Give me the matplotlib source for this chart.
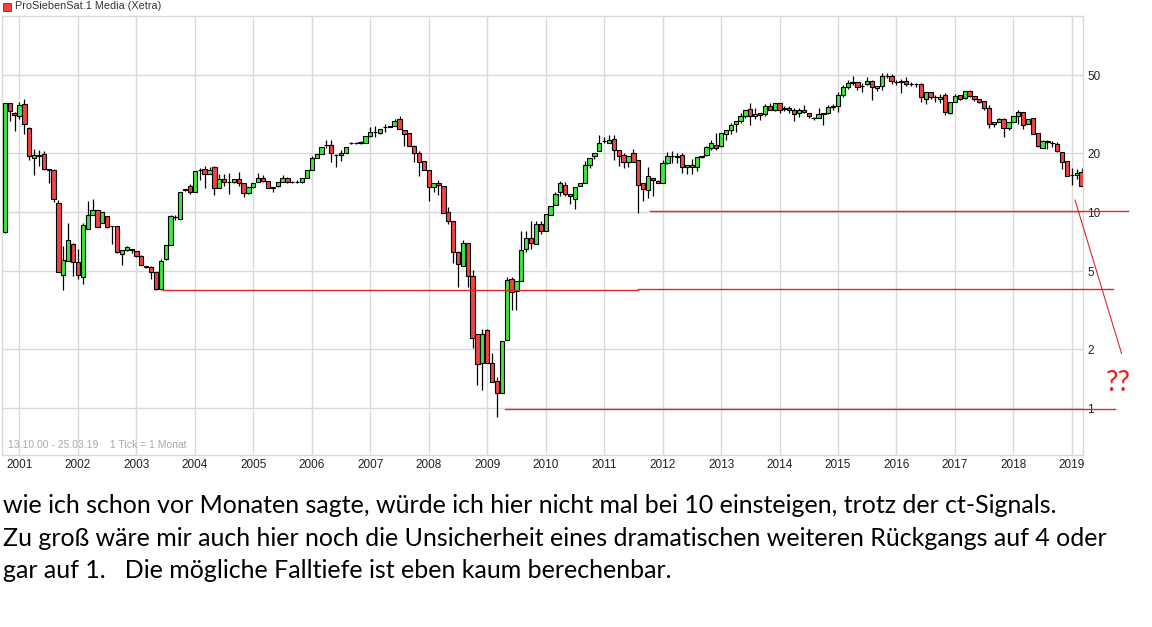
import numpy as np
import pandas as pd
import matplotlib
matplotlib.use("Agg")
import matplotlib.pyplot as plt
from matplotlib.patches import Rectangle
from matplotlib.ticker import FixedLocator, NullLocator, FixedFormatter

# monatliche Kerzen ProSiebenSat.1 (Xetra), Okt 2000 - Mär 2019
months = pd.date_range("2000-10-01", periods=222, freq="MS")

opens = [7.9, 35.8, 31.9, 31.0, 35.4, 26.7, 18.9, 19.5, 19.7, 16.5, 16.4, 11.1,
         4.75, 5.6, 6.9, 5.55, 4.64, 8.2, 9.6, 10.2, 8.8, 9.5, 8.5, 8.45,
         6.1, 6.38, 6.45, 6.3, 6.0, 5.28, 5.22, 4.92, 4.03, 5.74, 6.8, 9.4,
         9.2, 13.0, 13.5, 12.7, 16.3, 16.5, 15.6, 16.9, 13.3, 14.7, 14.2, 14.2,
         14.7, 14.0, 12.5, 13.4, 14.2, 14.9, 14.35, 13.3, 13.5, 14.2, 14.9, 14.2,
         14.25, 14.2, 14.95, 16.3, 18.9, 19.8, 21.9, 22.0, 19.6, 19.5, 20.1, 22.4,
         22.6, 22.4, 22.4, 24.4, 25.6, 25.2, 27.0, 27.3, 27.5, 29.7, 26.1, 25.3,
         21.8, 20.1, 18.2, 16.3, 13.4, 14.0, 13.6, 10.0, 8.95, 6.28, 5.3, 6.92,
         4.7, 2.4, 1.7, 2.5, 1.69, 1.38, 1.19, 2.22, 4.53, 3.95, 4.43, 6.5,
         7.37, 6.85, 8.66, 8.0, 9.7, 10.8, 12.6, 13.8, 12.3, 11.7, 13.5, 14.1,
         17.4, 19.3, 20.5, 22.9, 22.4, 23.7, 20.8, 19.5, 17.9, 20.1, 18.4, 14.1,
         12.9, 15.0, 14.4, 14.0, 17.8, 19.4, 19.4, 19.5, 16.9, 17.3, 17.0, 19.0,
         19.5, 21.3, 22.0, 21.8, 24.9, 26.1, 28.0, 29.1, 30.9, 33.4, 31.0, 32.0,
         31.6, 34.8, 33.2, 35.8, 33.5, 33.8, 33.3, 31.9, 33.3, 32.1, 30.1, 30.2,
         31.6, 31.9, 34.3, 34.6, 39.4, 43.6, 45.6, 45.8, 44.0, 45.0, 46.6, 42.8,
         44.0, 49.4, 49.4, 46.0, 46.0, 46.8, 44.8, 44.8, 45.2, 37.5, 41.1, 38.6,
         37.8, 39.5, 31.9, 36.6, 39.5, 38.0, 41.3, 39.0, 37.6, 36.9, 34.0, 28.0,
         28.7, 29.8, 26.7, 28.7, 30.9, 32.2, 28.0, 30.0, 25.2, 21.3, 23.0, 22.4,
         22.2, 20.2, 18.2, 15.4, 15.5, 16.0]
highs = [36.0, 35.9, 32.2, 36.5, 37.7, 27.0, 20.9, 20.8, 20.5, 16.6, 16.5, 11.5,
         6.7, 8.8, 6.95, 6.5, 8.8, 11.4, 11.7, 10.3, 10.0, 9.5, 8.5, 8.5,
         6.4, 6.7, 6.5, 6.3, 6.05, 5.33, 5.3, 4.95, 5.74, 6.8, 9.7, 9.6,
         12.7, 13.1, 13.9, 16.1, 16.8, 17.2, 17.0, 17.2, 15.7, 15.7, 15.9, 14.8,
         16.0, 14.1, 13.4, 14.0, 15.8, 15.5, 14.4, 13.35, 14.2, 15.4, 15.1, 14.4,
         14.5, 15.0, 16.3, 19.2, 19.8, 21.5, 23.3, 23.3, 19.7, 20.6, 21.5, 22.7,
         22.8, 22.9, 24.4, 27.1, 27.6, 26.5, 28.0, 27.6, 29.7, 30.8, 26.2, 25.4,
         21.9, 20.4, 18.2, 16.3, 14.1, 14.5, 13.6, 10.6, 8.95, 6.3, 7.2, 6.95,
         5.06, 2.4, 2.52, 2.52, 1.92, 1.44, 2.2, 4.68, 4.68, 4.43, 8.0, 8.0,
         8.95, 9.05, 8.95, 9.77, 10.7, 12.7, 14.4, 14.3, 12.3, 13.4, 14.0, 18.2,
         18.8, 20.0, 24.6, 24.2, 24.8, 24.8, 20.8, 19.9, 19.4, 21.0, 18.4, 14.1,
         17.0, 15.0, 14.5, 18.4, 20.3, 20.5, 19.9, 20.1, 17.4, 18.7, 19.0, 19.4,
         21.7, 23.3, 25.2, 25.2, 26.3, 28.3, 29.2, 31.9, 33.2, 36.2, 34.0, 32.1,
         35.5, 35.8, 35.8, 36.1, 34.8, 34.8, 33.8, 33.8, 35.0, 32.1, 30.6, 33.8,
         31.9, 35.0, 35.5, 41.0, 44.5, 47.4, 49.5, 46.0, 45.4, 48.6, 47.2, 43.8,
         51.0, 51.0, 50.4, 47.2, 47.6, 48.6, 46.0, 45.6, 45.4, 40.8, 41.1, 39.5,
         40.0, 40.3, 36.4, 40.0, 39.5, 41.3, 42.0, 39.0, 37.6, 36.9, 35.2, 28.7,
         30.2, 30.2, 28.7, 30.9, 33.2, 32.5, 29.9, 30.0, 25.2, 23.3, 23.3, 22.9,
         22.7, 20.2, 18.2, 16.8, 16.5, 16.8]
lows = [7.8, 29.0, 26.0, 29.7, 25.0, 18.4, 15.5, 17.2, 16.3, 14.1, 11.3, 4.95,
        4.02, 5.6, 4.71, 4.57, 4.3, 8.2, 9.6, 8.4, 8.8, 8.3, 6.9, 6.2,
        5.35, 6.3, 6.15, 5.9, 5.35, 5.17, 4.54, 3.98, 4.0, 5.7, 6.8, 9.1,
        9.2, 12.8, 12.4, 12.7, 14.6, 13.3, 15.6, 12.2, 13.3, 13.5, 12.4, 14.1,
        13.5, 11.9, 12.4, 13.3, 14.2, 14.3, 13.2, 12.6, 13.4, 14.2, 14.0, 14.0,
        14.0, 14.1, 14.9, 16.3, 18.8, 19.8, 21.1, 18.0, 17.0, 18.2, 20.0, 22.3,
        22.3, 22.3, 22.4, 24.2, 24.0, 25.1, 25.7, 27.0, 27.4, 26.5, 21.6, 21.7,
        17.9, 15.3, 16.3, 11.4, 12.6, 12.2, 9.84, 8.7, 5.5, 4.16, 5.3, 4.16,
        2.02, 1.31, 1.24, 1.69, 1.36, 0.90, 1.19, 2.22, 3.16, 3.16, 4.43, 6.26,
        6.5, 6.85, 7.75, 8.0, 9.7, 10.8, 12.0, 12.0, 11.0, 10.4, 13.5, 14.1,
        16.7, 18.7, 20.5, 22.6, 22.4, 18.4, 17.1, 16.7, 17.0, 18.0, 9.9, 11.4,
        11.8, 12.0, 14.0, 14.0, 17.6, 17.7, 17.7, 15.8, 15.6, 15.6, 16.2, 18.9,
        19.4, 20.7, 20.7, 21.5, 23.2, 25.0, 25.7, 28.3, 30.2, 27.7, 29.8, 29.5,
        31.0, 33.0, 32.8, 31.9, 32.8, 31.9, 29.1, 30.6, 31.9, 30.2, 29.5, 30.2,
        27.7, 31.8, 33.0, 32.5, 38.8, 42.6, 44.5, 41.9, 40.8, 44.5, 37.3, 41.6,
        42.0, 48.1, 45.0, 44.5, 40.3, 44.2, 44.2, 43.6, 36.6, 35.4, 37.8, 36.4,
        35.8, 31.3, 31.5, 36.6, 37.3, 37.8, 38.5, 36.9, 36.2, 33.0, 26.9, 27.2,
        28.7, 24.2, 26.2, 28.7, 28.0, 26.5, 28.0, 24.9, 21.5, 21.1, 21.0, 21.5,
        20.2, 16.5, 15.2, 13.8, 14.7, 13.5]
closes = [35.8, 32.6, 31.2, 35.0, 28.0, 19.2, 19.5, 19.4, 16.5, 16.4, 11.6, 4.97,
          5.67, 7.2, 5.55, 4.75, 8.56, 9.6, 10.2, 8.42, 9.97, 8.35, 8.45, 6.22,
          6.38, 6.66, 6.4, 6.0, 5.38, 5.25, 4.92, 4.06, 5.6, 6.8, 9.5, 9.45,
          12.7, 13.1, 12.7, 16.1, 16.4, 15.6, 16.3, 13.3, 14.7, 14.2, 14.25, 14.7,
          14.0, 12.5, 13.4, 14.0, 14.9, 14.35, 13.2, 13.35, 14.2, 14.9, 14.2, 14.25,
          14.2, 14.95, 16.3, 18.9, 19.8, 21.5, 22.0, 20.1, 19.5, 20.1, 21.5, 22.6,
          22.6, 22.8, 24.4, 25.7, 25.7, 26.4, 27.1, 27.4, 29.0, 26.5, 24.9, 21.8,
          20.1, 18.1, 16.3, 13.4, 14.1, 13.7, 9.84, 8.95, 6.28, 5.4, 6.92, 4.73,
          2.29, 1.67, 2.38, 1.69, 1.36, 1.19, 2.2, 4.48, 3.89, 4.43, 6.38, 7.35,
          6.97, 8.66, 8.0, 9.77, 10.7, 12.4, 14.1, 12.4, 12.0, 13.4, 14.0, 17.3,
          18.8, 20.0, 22.4, 22.9, 23.3, 20.7, 19.4, 18.0, 19.4, 18.0, 13.8, 13.1,
          15.3, 14.6, 14.05, 17.8, 19.4, 19.3, 19.0, 16.9, 17.3, 16.9, 19.0, 19.4,
          21.4, 22.5, 21.2, 25.2, 26.3, 27.7, 29.2, 31.0, 33.2, 30.8, 31.5, 31.2,
          34.8, 33.3, 35.8, 33.2, 34.0, 33.0, 31.7, 33.3, 32.4, 30.9, 30.2, 31.6,
          32.0, 34.3, 34.8, 39.5, 43.6, 45.4, 45.8, 43.3, 44.0, 46.6, 43.3, 43.8,
          49.4, 49.5, 46.4, 46.0, 46.8, 45.2, 44.8, 45.2, 38.8, 40.8, 38.6, 38.6,
          38.8, 32.3, 36.4, 39.2, 37.8, 41.3, 39.0, 37.8, 36.6, 34.1, 28.0, 28.7,
          29.8, 26.7, 28.7, 30.9, 32.2, 27.9, 29.9, 24.9, 21.7, 22.9, 22.7, 22.4,
          20.4, 18.0, 15.3, 15.5, 15.9, 13.6]

y_ticks = [1, 2, 5, 10, 20, 50]

# eingezeichnete Linien: (Niveau, von Monatsindex, bis Monatsindex)
support_lines = [(10.08, 132.4, 230.5), (3.98, 32.45, 129.9),
                 (4.03, 129.9, 227.4), (0.985, 102.65, 227.8)]
trend_x = [219.65, 229.2]
trend_y = [11.5, 1.90]

text_lines = [
    "wie ich schon vor Monaten sagte, würde ich hier nicht mal bei 10 einsteigen, trotz der ct-Signals.",
    "Zu groß wäre mir auch hier noch die Unsicherheit eines dramatischen weiteren Rückgangs auf 4 oder",
    "gar auf 1.   Die mögliche Falltiefe ist eben kaum berechenbar.",
]

RED = "#f24242"
GREEN = "#3ee63e"
LINE_RED = "#e3262b"
GRID = "#d9d9d9"

W, H = 1152, 627
fig = plt.figure(figsize=(W / 100, H / 100), dpi=100)
ax = fig.add_axes([2 / W, 1 - 455 / H, (1083.3 - 2) / W, (455 - 16) / H])

x = np.arange(len(opens))
o = np.array(opens)
c = np.array(closes)
colors = [GREEN if cc >= oo else RED for oo, cc in zip(o, c)]

ax.vlines(x, lows, highs, color="black", lw=0.9, zorder=2)
ax.bar(x, np.abs(c - o), bottom=np.minimum(o, c), width=0.88, color=colors,
       edgecolor="black", linewidth=0.8, zorder=3)

ax.set_yscale("log")
ax.set_ylim(0.576, 100)
ax.set_xlim(-0.59, 221.35)

year_pos = [i for i, d in enumerate(months) if d.month == 1]
year_lab = [str(months[i].year) for i in year_pos]
ax.xaxis.set_major_locator(FixedLocator(year_pos))
ax.xaxis.set_major_formatter(FixedFormatter(year_lab))
ax.yaxis.set_major_locator(FixedLocator(y_ticks))
ax.yaxis.set_major_formatter(FixedFormatter([str(v) for v in y_ticks]))
ax.yaxis.set_minor_locator(NullLocator())
ax.xaxis.set_minor_locator(NullLocator())
ax.yaxis.tick_right()
ax.tick_params(axis="both", length=0, labelsize=8.5, colors="#222222")
ax.tick_params(axis="x", pad=3)
ax.tick_params(axis="y", pad=3)
for lab in ax.get_xticklabels() + ax.get_yticklabels():
    lab.set_family("Liberation Sans")
ax.grid(True, color=GRID, lw=1.0, zorder=0)
ax.set_axisbelow(True)
for s in ax.spines.values():
    s.set_color(GRID)
    s.set_linewidth(1.0)

for lvl, x0, x1 in support_lines:
    ax.plot([x0, x1], [lvl, lvl], color=LINE_RED, lw=1.0, clip_on=False, zorder=4)
ax.plot(trend_x, trend_y, color=LINE_RED, lw=0.8, clip_on=False, zorder=4)
ax.text(226.0, 1.22, "??", color="#ee1c1c", fontsize=20, family="Lato",
        va="baseline", ha="left", clip_on=False)

# Kopfzeile mit Legende
fig.add_artist(Rectangle((3 / W, 1 - 11 / H), 8 / W, 8 / H, transform=fig.transFigure,
                         facecolor=RED, edgecolor="#444444", lw=0.6))
fig.text(15 / W, 1 - 6 / H, "ProSiebenSat.1 Media (Xetra)", fontsize=7.8,
         family="Liberation Sans", color="#333333", va="center", ha="left")
fig.text(8 / W, 1 - 445 / H, "13.10.00 - 25.03.19    1 Tick = 1 Monat", fontsize=7.5,
         family="Liberation Sans", color="#a8a8b0", va="center", ha="left")

for i, line in enumerate(text_lines):
    fig.text(3 / W, 1 - (513 + i * 32.5) / H, line, fontsize=18, family="Lato",
             color="black", va="baseline", ha="left")

fig.savefig("out.png", dpi=100)
